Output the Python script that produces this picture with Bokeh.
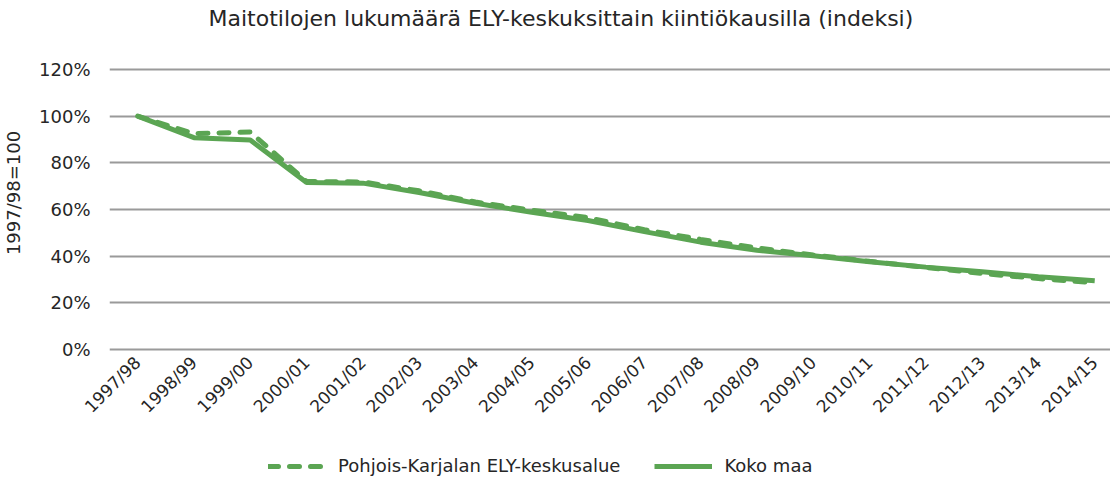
from math import pi
from bokeh.plotting import figure
from bokeh.layouts import column
from bokeh.models import (ColumnDataSource, Range1d, FixedTicker, NumeralTickFormatter,
                          Legend, LegendItem)
from bokeh.embed import file_html
from bokeh.resources import INLINE

categories = ["1997/98", "1998/99", "1999/00", "2000/01", "2001/02", "2002/03",
              "2003/04", "2004/05", "2005/06", "2006/07", "2007/08", "2008/09",
              "2009/10", "2010/11", "2011/12", "2012/13", "2013/14", "2014/15"]
pohjois_karjala = [1.00, 0.925, 0.932, 0.720, 0.718, 0.680, 0.632, 0.597, 0.565,
                   0.513, 0.472, 0.435, 0.405, 0.378, 0.352, 0.326, 0.304, 0.286]
koko_maa = [1.00, 0.908, 0.898, 0.716, 0.713, 0.673, 0.627, 0.588, 0.553,
            0.505, 0.460, 0.425, 0.402, 0.376, 0.353, 0.333, 0.312, 0.295]
y_ticks = [0, 0.2, 0.4, 0.6, 0.8, 1.0, 1.2]

title_text = "Maitotilojen lukumäärä ELY-keskuksittain kiintiökausilla (indeksi)"
y_label = "1997/98=100"
series_names = ["Pohjois-Karjalan ELY-keskusalue", "Koko maa"]

FONT = "DejaVu Sans"
GREEN = "#5BA553"
TXT = "#262626"
DASH = "10 11"

idx = list(range(len(categories)))
src = ColumnDataSource(dict(x=idx, pk=pohjois_karjala, km=koko_maa))

FRAME_H = 317
PX_PER_UNIT = 280 / 1.2
p = figure(frame_width=1001, frame_height=FRAME_H, output_backend="svg",
           toolbar_location=None,
           x_range=Range1d(-0.5, 17.28),
           y_range=Range1d(-2 / PX_PER_UNIT, 1.2 + 35 / PX_PER_UNIT),
           min_border_left=104, min_border_right=0, min_border_top=0,
           min_border_bottom=0)
p.outline_line_color = None

p.title.text = title_text
p.title.text_font = FONT
p.title.text_font_size = "22px"
p.title.text_font_style = "normal"
p.title.text_color = TXT
p.title.align = "left"
p.title.offset = 99
p.title.standoff = 7

p.line("x", "pk", source=src, line_color=GREEN, line_width=5,
       line_dash=DASH, line_cap="round")
p.line("x", "km", source=src, line_color=GREEN, line_width=5)

# axes
xa = p.xaxis[0]
xa.ticker = FixedTicker(ticks=idx)
xa.major_label_overrides = {i: c for i, c in zip(idx, categories)}
xa.major_label_orientation = pi / 4
xa.major_label_text_font = FONT
xa.major_label_text_font_size = "17px"
xa.major_label_text_color = TXT
xa.axis_line_color = None
xa.major_tick_line_color = None
xa.minor_tick_line_color = None
xa.major_label_standoff = 2

ya = p.yaxis[0]
ya.ticker = FixedTicker(ticks=y_ticks)
ya.formatter = NumeralTickFormatter(format="0%")
ya.major_label_text_font = FONT
ya.major_label_text_font_size = "18px"
ya.major_label_text_color = TXT
ya.axis_line_color = None
ya.major_tick_line_color = None
ya.minor_tick_line_color = None
ya.major_label_standoff = 13
ya.axis_label = y_label
ya.axis_label_text_font = FONT
ya.axis_label_text_font_size = "18px"
ya.axis_label_text_font_style = "normal"
ya.axis_label_text_color = TXT
ya.axis_label_standoff = 12

p.xgrid.grid_line_color = None
p.ygrid.ticker = FixedTicker(ticks=y_ticks)
p.ygrid.grid_line_color = "#9a9a9a"
p.ygrid.grid_line_width = 2

# legend strip (separate small figure below the chart); its series lines lie
# outside its visible range, so only the legend samples show
pl = figure(width=1105, height=24, output_backend="svg", toolbar_location=None,
            x_range=Range1d(0, 1), y_range=Range1d(5, 6),
            min_border_left=0, min_border_right=0, min_border_top=0,
            min_border_bottom=0, margin=(28, 0, 0, 0))
pl.axis.visible = False
pl.grid.visible = False
pl.outline_line_color = None
pl.background_fill_alpha = 0
pl.border_fill_alpha = 0
lg1 = pl.line("x", "pk", source=src, line_color=GREEN, line_width=5,
              line_dash=DASH, line_cap="round")
lg2 = pl.line("x", "km", source=src, line_color=GREEN, line_width=5)

legend = Legend(items=[LegendItem(label=series_names[0], renderers=[lg1]),
                       LegendItem(label=series_names[1], renderers=[lg2])],
                orientation="horizontal", location=(159, 2),
                label_text_font=FONT, label_text_font_size="18px",
                label_text_color=TXT, glyph_width=58, glyph_height=20,
                label_height=20, label_standoff=12,
                spacing=34, border_line_color=None, padding=0, margin=0,
                background_fill_alpha=0)
pl.add_layout(legend)

layout = column(p, pl, spacing=0)
open("out.html", "w").write(file_html(layout, INLINE))
